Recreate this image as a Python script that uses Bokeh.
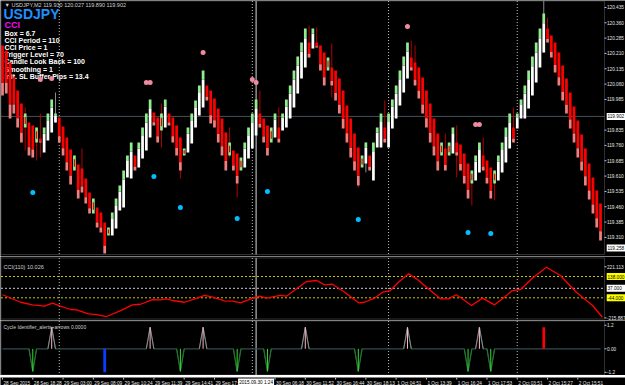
from bokeh.plotting import figure
from bokeh.layouts import column
from bokeh.models import Range1d, Label, BoxAnnotation
from bokeh.core.properties import value
from bokeh.embed import file_html
from bokeh.resources import INLINE

# ---------------- data ----------------
bar_hi = [
    120.249, 120.224, 120.166, 120.092, 120.029, 119.965, 119.916, 119.872, 119.858, 119.848,
    119.794, 119.848, 119.916, 119.985, 119.916, 119.897, 119.853, 119.799, 119.740, 119.711,
    119.667, 119.647, 119.598, 119.530, 119.500, 119.456, 119.432, 119.383, 119.359, 119.432,
    119.500, 119.564, 119.637, 119.711, 119.774, 119.711, 119.774, 119.848, 119.916, 119.985,
    119.921, 119.897, 119.916, 119.985, 119.916, 119.897, 119.858, 119.799, 119.745, 119.848,
    119.916, 119.980, 120.053, 120.127, 120.053, 120.029, 119.990, 119.941, 119.892, 119.823,
    119.774, 119.735, 119.720, 119.701, 119.774, 119.848, 119.916, 119.985, 119.916, 119.892,
    119.858, 119.848, 119.916, 119.848, 119.916, 119.985, 120.053, 120.127, 120.195, 120.264,
    120.332, 120.264, 120.332, 120.264, 120.249, 120.215, 120.190, 120.141, 120.127, 120.087,
    120.029, 119.955, 119.892, 119.818, 119.750, 119.711, 119.774, 119.711, 119.774, 119.848,
    119.916, 119.848, 119.916, 119.985, 120.053, 120.127, 120.195, 120.264, 120.190, 120.166,
    120.141, 120.092, 120.029, 119.965, 119.892, 119.818, 119.774, 119.745, 119.774, 119.848,
    119.774, 119.765, 119.720, 119.672, 119.637, 119.711, 119.774, 119.711, 119.686, 119.652,
    119.637, 119.711, 119.774, 119.848, 119.916, 119.848, 119.916, 119.985, 120.053, 120.127,
    120.195, 120.264, 120.332, 120.405, 120.332, 120.298, 120.264, 120.215, 120.151, 120.087,
    120.019, 119.950, 119.882, 119.813, 119.745, 119.672, 119.603, 119.540, 119.476]
bar_lo = [
    120.004, 120.014, 119.892, 119.916, 119.848, 119.774, 119.848, 119.711, 119.701, 119.774,
    119.774, 119.725, 119.784, 119.823, 119.872, 119.774, 119.711, 119.637, 119.569, 119.637,
    119.500, 119.530, 119.476, 119.427, 119.427, 119.359, 119.334, 119.231, 119.319, 119.319,
    119.354, 119.442, 119.456, 119.603, 119.598, 119.637, 119.652, 119.696, 119.735, 119.799,
    119.858, 119.774, 119.833, 119.848, 119.858, 119.774, 119.711, 119.637, 119.711, 119.725,
    119.769, 119.848, 119.906, 119.946, 119.980, 119.867, 119.848, 119.774, 119.711, 119.637,
    119.711, 119.637, 119.574, 119.637, 119.652, 119.696, 119.745, 119.809, 119.848, 119.774,
    119.711, 119.774, 119.799, 119.774, 119.833, 119.848, 119.892, 119.946, 120.014, 120.087,
    120.141, 120.190, 120.234, 120.239, 120.127, 120.053, 120.127, 120.053, 119.980, 119.916,
    119.843, 119.774, 119.701, 119.637, 119.564, 119.652, 119.672, 119.637, 119.588, 119.750,
    119.750, 119.774, 119.750, 119.843, 119.892, 119.955, 120.019, 120.087, 120.127, 120.053,
    119.990, 119.916, 119.848, 119.774, 119.711, 119.637, 119.711, 119.637, 119.711, 119.720,
    119.711, 119.637, 119.574, 119.500, 119.574, 119.588, 119.628, 119.637, 119.574, 119.500,
    119.574, 119.588, 119.628, 119.676, 119.745, 119.774, 119.843, 119.892, 119.892, 119.941,
    120.004, 120.068, 120.141, 120.215, 120.264, 120.190, 120.117, 120.053, 119.980, 119.916,
    119.843, 119.774, 119.701, 119.637, 119.564, 119.496, 119.427, 119.359, 119.295]
bar_dir = ("DDDDDDMDDMDUUUUDDDDMDDDDMDDDMUUUUUUDUUUUDDMUDDDDMUUUUUDDDDDDMDDMUUUUDDDMUD"
           "UUUUUUUDUDDDMDDDDDDDDMUDUUUDUUUUUUDDDDDDDDMDMUDDDDMUUDDDMUUUUDUUUUUUUU"
           "DDDDDDDDDDDDDDD")

wick_bar = [6, 9, 10, 14, 21, 42, 47, 60, 62, 68, 73, 81, 83, 87, 94, 96, 101, 108, 109,
            117, 120, 124, 127, 130, 135, 143, 144]
wick_hi = [119.946, 119.848, 119.916, 120.019, 119.745, 119.965, 119.799, 119.848, 119.720,
           120.029, 119.946, 120.347, 120.337, 120.259, 119.750, 119.774, 119.980, 120.273,
           120.249, 119.818, 119.858, 119.637, 119.799, 119.637, 119.946, 120.469, 120.386]
wick_lo = [119.735, 119.686, 119.701, 119.872, 119.530, 119.750, 119.598, 119.701, 119.505,
           119.848, 119.774, 120.190, 120.239, 119.995, 119.554, 119.628, 119.774, 120.127,
           120.053, 119.686, 119.603, 119.466, 119.637, 119.491, 119.774, 120.215, 120.264]

pink_bar = [10, 13, 38, 39, 53, 66, 67, 107, 125, 126]
pink_price = [120.083, 120.087, 120.068, 120.068, 120.215, 120.083, 120.068, 120.342, 119.862, 119.862]
cyan_bar = [8, 40, 47, 62, 70, 94, 123, 129]
cyan_price = [119.530, 119.608, 119.456, 119.403, 119.535, 119.398, 119.334, 119.329]

price_ticks = [120.435, 120.360, 120.285, 120.210, 120.135, 120.060, 119.985, 119.835,
               119.760, 119.685, 119.610, 119.535, 119.460, 119.385, 119.310]
current_price = 119.902
cross_price = 119.258

cci_bar = [0, 4.8, 7.9, 11.1, 13.2, 15.3, 18.0, 19.6, 22.7, 24.8, 27.5, 31.2, 34.3, 36.5, 39.6,
           41.7, 43.3, 44.9, 48.1, 50.2, 53.4, 55.5, 58.7, 60.8, 62.9, 66.1, 67.9, 69.7, 73.4,
           75.0, 77.7, 80.3, 83.0, 85.1, 87.2, 90.4, 94.1, 95.6, 98.3, 100.4, 102.5, 104.6,
           107.3, 109.4, 112.5, 115.7, 117.8, 119.9, 122.1, 123.9, 126.8, 130.0, 132.6, 134.7,
           136.9, 140.0, 143.7, 147.4, 151.6, 155.9, 158.5]
cci_val = [-18, -82, -104, -116, -90, -116, -144, -147, -181, -187, -204, -153, -104, -99, -59,
           -61, -53, -67, -82, -59, -24, -39, -70, -73, -87, -47, -30, -47, -24, -30, 33, 95,
           104, 67, 72, 4, -87, -82, -47, 4, 18, 89, 161, 118, 33, -53, -53, -18, -67, -110,
           -47, -104, -39, 18, 27, 123, 217, 147, 4, -110, -210]
cci_levels = [138.0, 37.0, -44.0]
cci_level_colors = ["#c8c800", "#c8c8c8", "#c8c800"]
cci_level_box = ["#ffff00", "#ffffff", "#ffff00"]
cci_scale_ticks = [221.113, -215.887]

cyc_up = [13, 39, 53, 80, 107, 126]
cyc_dn = [8, 47, 62, 70, 94, 123, 129]
cyc_up_val = 1.1
cyc_dn_val = -1.15
major_up = [143]
major_up_val = 1.1
major_dn = [27]
major_dn_val = -1.2
cyc_scale_ticks = [1.2, 0.0, -1.2]
cyc_scale_labels = ["1.2", "0.00", "-1.2"]

time_ticks = [0, 8, 16, 24, 32, 40, 48, 56, 72, 80, 88, 96, 104, 112, 120, 128, 136, 144, 152]
time_labels = ["28 Sep 2015", "28 Sep 18:28", "29 Sep 03:00", "29 Sep 08:09", "29 Sep 10:24",
               "29 Sep 11:39", "29 Sep 14:41", "29 Sep 17:06", "30 Sep 06:18", "30 Sep 11:52",
               "30 Sep 16:44", "30 Sep 18:13", "1 Oct 04:51", "1 Oct 13:39", "1 Oct 16:24",
               "1 Oct 17:53", "2 Oct 03:51", "2 Oct 15:27", "2 Oct 15:51"]
day_breaks = [15, 66, 102, 136]
cursor_bar = 67
cursor_label = "2015.09.30 1:24"

info_lines = ["Box = 6.7", "CCI Period = 110", "CCI Price = 1", "Trigger Level = 70",
              "Candle Look Back = 100", "Smoothing = 1", "Init. SL Buffer Pips = 13.4"]

# ---------------- layout constants (pixels) ----------------
W = 625
BAR_PX = 3.785          # pixels per bar
X0_PX = 2.0             # pixel of bar 0
PX = 1.0 / BAR_PX       # one pixel in bar units
XB = (604 - X0_PX) / BAR_PX     # right border of the chart area
XL = (0.5 - X0_PX) / BAR_PX     # left border
x_range = Range1d(-X0_PX / BAR_PX, (W - X0_PX) / BAR_PX)
N = len(bar_hi)
FONT = "Liberation Sans"
AX_COL = "#e6e6e6"
FRAME_COL = "#a0a0a0"
SCALE_FS = "4.7px"


def make_fig(h, y0, y1):
    f = figure(width=W, height=h, x_range=x_range, y_range=Range1d(y0, y1),
               output_backend="svg", toolbar_location=None,
               x_axis_location=None, y_axis_location=None,
               background_fill_color="black", border_fill_color="black",
               outline_line_color=None, min_border=0,
               min_border_left=0, min_border_right=0, min_border_top=0, min_border_bottom=0)
    f.xgrid.visible = False
    f.ygrid.visible = False
    return f


def panel_frame(f, top, bottom):
    f.add_layout(BoxAnnotation(left=XL, right=XB, top=top, bottom=bottom, fill_alpha=0,
                               line_color=FRAME_COL, line_width=1))


def right_scale(f, ticks, labels):
    n = len(ticks)
    f.segment(x0=[XB] * n, y0=ticks, x1=[XB + 2 * PX] * n, y1=ticks,
              line_color="#c8c8c8", line_width=1)
    f.text(x=[XB + 2.5 * PX] * n, y=ticks, text=labels, text_font=value(FONT),
           text_font_size=SCALE_FS, text_color=AX_COL, text_baseline="middle")


def scale_box(f, ys, labels, bgs, y_per_px):
    n = len(ys)
    f.quad(left=[XB + 2.2 * PX] * n, right=[XB + 20.5 * PX] * n,
           top=[y + 3.5 * y_per_px for y in ys], bottom=[y - 3.5 * y_per_px for y in ys],
           fill_color=bgs, line_color=None)
    f.text(x=[XB + 3 * PX] * n, y=ys, text=labels, text_font=value(FONT),
           text_font_size=SCALE_FS, text_color="black", text_baseline="middle")


def vlines(f, y0, y1):
    n = len(day_breaks)
    f.segment(x0=day_breaks, y0=[y0] * n, x1=day_breaks, y1=[y1] * n,
              line_color="#bdbdbd", line_dash="1 2", line_width=1)
    f.segment(x0=[cursor_bar], y0=[y0], x1=[cursor_bar], y1=[y1], line_color="#d8d8d8", line_width=1)


# ---------------- main price panel (canvas rows 0..256) ----------------
P_TOP = 120.469
P_PER_PX = 0.004892
p1 = make_fig(256, P_TOP - 256 * P_PER_PX, P_TOP)


def my(py):
    return P_TOP - py * P_PER_PX


def mx(px):
    return (px - X0_PX) / BAR_PX


p1.add_layout(Label(x=mx(4), y=my(4), text="\u25bc USDJPY,M2  119.930 120.027 119.890 119.902",
                    text_font=FONT, text_font_size="5.5px", text_color="#d0d0d0",
                    text_baseline="middle", level="underlay"))
p1.add_layout(Label(x=mx(3), y=my(13), text="USDJPY", text_font=FONT, text_font_size="14px",
                    text_font_style="bold", text_color="#1e90ff", text_baseline="middle",
                    level="underlay"))
p1.add_layout(Label(x=mx(4), y=my(24.5), text="CCI", text_font=FONT, text_font_size="9px",
                    text_font_style="bold", text_color="#ff00ff", text_baseline="middle",
                    level="underlay"))
for k, t in enumerate(info_lines):
    p1.add_layout(Label(x=mx(4), y=my(32.5 + 7.2 * k), text=t, text_font=FONT,
                        text_font_size="7px", text_font_style="bold", text_color="white",
                        text_baseline="middle", level="underlay"))

p1.segment(x0=[XL], y0=[current_price], x1=[XB], y1=[current_price], line_color="#46505c", line_width=1)
vlines(p1, my(0.5), my(254))

wick_col = ["#8c8c8c" if bar_dir[b] == "U" else "#b00000" for b in wick_bar]
p1.segment(x0=wick_bar, y0=wick_lo, x1=wick_bar, y1=wick_hi, line_color=wick_col, line_width=1)

BW = 0.72
groups = {k: ([], [], []) for k in ["white", "green", "red", "pink", "mred"]}


def put(key, i, top, bot):
    groups[key][0].append(i)
    groups[key][1].append(top)
    groups[key][2].append(bot)


for i, (h, l, d) in enumerate(zip(bar_hi, bar_lo, bar_dir)):
    r = h - l
    if d == "U":
        put("white", i, h - 0.25 * r, l)
        put("green", i, h, h - 0.25 * r)
    elif d == "D":
        put("red", i, h, l + 0.25 * r)
        put("pink", i, l + 0.25 * r, l)
    else:
        put("green", i, h, l)
        put("mred", i, h - 0.25 * r, l + 0.25 * r)

cols = {"white": "#ffffff", "green": "#90ee90", "red": "#ff0000", "pink": "#f08080", "mred": "#e00000"}
for key in ["white", "green", "red", "pink"]:
    xs, tops, bots = groups[key]
    p1.vbar(x=xs, width=BW, top=tops, bottom=bots, fill_color=cols[key], line_color=None)
xs, tops, bots = groups["mred"]
p1.vbar(x=xs, width=BW * 0.45, top=tops, bottom=bots, fill_color=cols["mred"], line_color=None)

p1.scatter(x=pink_bar, y=pink_price, size=5, fill_color="#f08aa0", line_color=None)
p1.scatter(x=cyan_bar, y=cyan_price, size=5, fill_color="#00bfff", line_color=None)

panel_frame(p1, my(0.5), my(254))
right_scale(p1, price_ticks, ["%.3f" % t for t in price_ticks])
scale_box(p1, [current_price, cross_price], ["%.3f" % current_price, "%.3f" % cross_price],
          ["#ffffff", "#ffffff"], P_PER_PX)

# ---------------- CCI panel (canvas rows 256..320) ----------------
C_PER_PX = 8.545
C_TOP = 138.0 + 20 * C_PER_PX          # 138 sits 20 px below the top of this strip
p2 = make_fig(64, C_TOP - 64 * C_PER_PX, C_TOP)


def cy(py):
    return C_TOP - py * C_PER_PX


vlines(p2, cy(1.5), cy(62.5))
for lvl, c in zip(cci_levels, cci_level_colors):
    p2.segment(x0=[XL], y0=[lvl], x1=[XB], y1=[lvl], line_color=c, line_dash="2 2", line_width=1)
p2.line(cci_bar, cci_val, line_color="#ff0000", line_width=1.3)
p2.add_layout(Label(x=mx(3), y=cy(10), text="CCI(110) 10.026", text_font=FONT,
                    text_font_size="5.5px", text_color="#d0d0d0", text_baseline="middle"))
panel_frame(p2, cy(1.5), cy(62.5))
right_scale(p2, cci_scale_ticks, ["%.3f" % t for t in cci_scale_ticks])
scale_box(p2, cci_levels, ["%.3f" % v for v in cci_levels], cci_level_box, C_PER_PX)

# ---------------- cycle identifier panel (canvas rows 320..375) ----------------
I_PX = 19.6
I_TOP = 28.3 / I_PX
p3 = make_fig(55, I_TOP - 55 / I_PX, I_TOP)


def iy(py):
    return I_TOP - py / I_PX


vlines(p3, iy(0.5), iy(54.5))
cyc = [0.0] * N
for i in cyc_up:
    cyc[i] = cyc_up_val
for i in cyc_dn:
    cyc[i] = cyc_dn_val
p3.line(list(range(N)), cyc, line_color="#2f4f4f", line_width=1.2)
p3.multi_line(xs=[[i - 1, i, i + 1] for i in cyc_up], ys=[[0, cyc_up_val, 0] for i in cyc_up],
              line_color="#8a8a8a", line_width=1)
p3.multi_line(xs=[[i - 1, i, i + 1] for i in cyc_dn], ys=[[0, cyc_dn_val, 0] for i in cyc_dn],
              line_color="#1f7a1f", line_width=1)
p3.segment(x0=cyc_up, y0=[0] * len(cyc_up), x1=cyc_up, y1=[cyc_up_val] * len(cyc_up),
           line_color="#ffb6c1", line_width=1)
p3.segment(x0=cyc_dn, y0=[0] * len(cyc_dn), x1=cyc_dn, y1=[cyc_dn_val] * len(cyc_dn),
           line_color="#33dd33", line_width=1)
p3.vbar(x=major_dn, width=0.75, top=0, bottom=major_dn_val, fill_color="#0a3cff", line_color=None)
p3.vbar(x=major_up, width=0.7, top=major_up_val, bottom=0, fill_color="#ff0000", line_color=None)
p3.add_layout(Label(x=mx(3), y=iy(6), text="Cycle Identifier_alerts+arrows 0.0000",
                    text_font=FONT, text_font_size="5px", text_color="#d0d0d0",
                    text_baseline="middle"))
panel_frame(p3, iy(0.5), iy(54.5))
right_scale(p3, cyc_scale_ticks, cyc_scale_labels)

# ---------------- time scale strip (canvas rows 375..385) ----------------
p4 = make_fig(10, 0, 10)
nt = len(time_ticks)
p4.segment(x0=time_ticks, y0=[10] * nt, x1=time_ticks, y1=[8] * nt, line_color="#c8c8c8", line_width=1)
p4.text(x=time_ticks, y=[4.5] * nt, text=time_labels, x_offset=1, text_font=value(FONT),
        text_font_size="4.7px", text_color=AX_COL, text_baseline="middle", text_align="left")
p4.quad(left=[cursor_bar - 18 * PX], right=[cursor_bar + 18 * PX], top=[9], bottom=[0.5],
        fill_color="#ffffff", line_color=None)
p4.text(x=[cursor_bar], y=[4.7], text=[cursor_label], text_font=value(FONT), text_font_size="4.7px",
        text_color="black", text_baseline="middle", text_align="center")

layout = column(p1, p2, p3, p4, spacing=0)
open("out.html", "w").write(file_html(layout, INLINE))
